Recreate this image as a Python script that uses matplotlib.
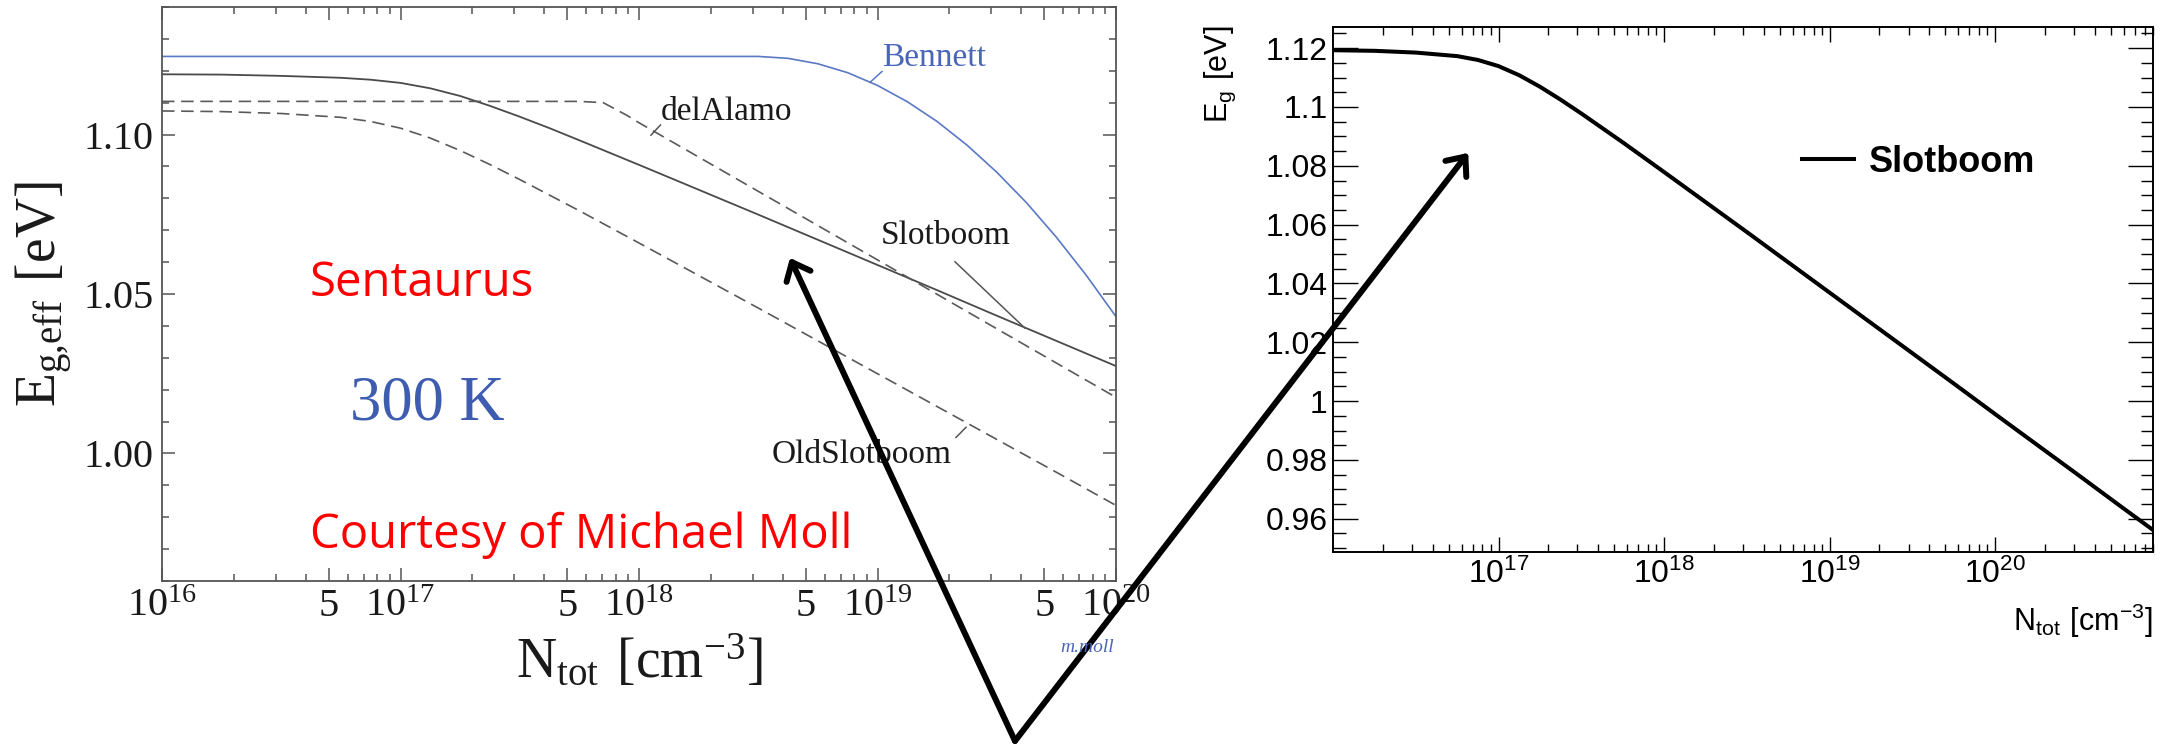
import numpy as np
import matplotlib
matplotlib.use("Agg")
import matplotlib.pyplot as plt
from matplotlib.ticker import FixedLocator, MultipleLocator, FuncFormatter

# ---- left panel: Sentaurus band gap narrowing models, 300 K ----
# x values are log10(N_tot / cm^-3), y values E_g,eff in eV
slot_exp = [16, 16.25, 16.5, 16.75, 16.875, 17, 17.125, 17.25, 17.375, 17.5, 17.625,
            17.75, 18, 18.25, 18.5, 18.75, 19, 19.25, 19.5, 19.75, 20]
slot_eg = [1.1189, 1.1188, 1.1184, 1.1178, 1.1172, 1.1162, 1.1145, 1.1121, 1.1090, 1.1056, 1.1020,
           1.0982, 1.0905, 1.0827, 1.0749, 1.0670, 1.0591, 1.0512, 1.0432, 1.0353, 1.0274]

old_exp = slot_exp
old_eg = [1.1074, 1.1072, 1.1066, 1.1054, 1.1041, 1.1020, 1.0989, 1.0950, 1.0906, 1.0859, 1.0810,
          1.0761, 1.0660, 1.0558, 1.0456, 1.0353, 1.0250, 1.0147, 1.0044, 0.9941, 0.9837]

alamo_exp = [16, 17, 17.75, 17.85, 17.95, 18, 18.5, 19, 19.5, 20]
alamo_eg = [1.1104, 1.1104, 1.1104, 1.1100, 1.1060, 1.1037, 1.0822, 1.0607, 1.0391, 1.0176]

bennett_exp = [16, 18.5, 18.625, 18.75, 18.875, 19, 19.125, 19.25, 19.375, 19.5, 19.625,
               19.75, 19.875, 20]
bennett_eg = [1.1245, 1.1245, 1.1239, 1.1222, 1.1194, 1.1154, 1.1103, 1.1041, 1.0967, 1.0882, 1.0786,
              1.0678, 1.0559, 1.0429]

left_ticks = [1e16, 5e16, 1e17, 5e17, 1e18, 5e18, 1e19, 5e19, 1e20]
left_ticklabels = [r"$\mathregular{10^{16}}$", "5", r"$\mathregular{10^{17}}$", "5",
                   r"$\mathregular{10^{18}}$", "5", r"$\mathregular{10^{19}}$", "5",
                   r"$\mathregular{10^{20}}$"]

# ---- right panel: Slotboom curve ----
root_exp = [16, 16.25, 16.5, 16.75, 16.875, 17, 17.125, 17.25, 17.375, 17.5, 17.625, 17.75,
            18, 18.25, 18.5, 18.75, 19, 19.25, 19.5, 19.75, 20, 20.25, 20.5, 20.75, 20.954]
root_eg = [1.1193, 1.1191, 1.1185, 1.1173, 1.1160, 1.1139, 1.1108, 1.1069, 1.1025, 1.0978, 1.0929, 1.0880,
           1.0779, 1.0677, 1.0575, 1.0472, 1.0369, 1.0266, 1.0163, 1.0060, 0.9956, 0.9853, 0.9750, 0.9646, 0.9562]

right_ticks = [1e17, 1e18, 1e19, 1e20]
right_ticklabels = [r"$\mathregular{10^{17}}$", r"$\mathregular{10^{18}}$",
                    r"$\mathregular{10^{19}}$", r"$\mathregular{10^{20}}$"]

SERIF = "Liberation Serif"
SANS = "Liberation Sans"
BLUE = "#4a66b8"
GREY = "#555555"

W, H = 2165, 744
fig = plt.figure(figsize=(W / 100, H / 100), dpi=100)
fig.patch.set_facecolor("white")

def box(x0, y0, x1, y1):
    # pixel box (top-left origin) -> figure fraction rect
    return [x0 / W, 1 - y1 / H, (x1 - x0) / W, (y1 - y0) / H]

# ================= left =================
ax1 = fig.add_axes(box(162, 7, 1116, 581))
ax1.set_xscale("log")
ax1.plot(10 ** np.array(bennett_exp), bennett_eg, color="#5a78c4", lw=1.2)
ax1.plot(10 ** np.array(slot_exp), slot_eg, color="#4a4a4a", lw=1.3)
ax1.plot(10 ** np.array(alamo_exp), alamo_eg, color="#5a5a5a", lw=1.2, dashes=(7.5, 4))
ax1.plot(10 ** np.array(old_exp), old_eg, color="#5a5a5a", lw=1.2, dashes=(7.5, 4))
ax1.set_xlim(1e16, 1e20)
ax1.set_ylim(0.96, 1.14)

ax1.set_xticks(left_ticks, left_ticklabels, fontfamily=SERIF, fontsize=29)
minor = [m * 10.0 ** d for d in range(16, 20) for m in (2, 3, 4, 6, 7, 8, 9)]
ax1.xaxis.set_minor_locator(FixedLocator(minor))
ax1.xaxis.set_minor_formatter(FuncFormatter(lambda v, p: ""))
ax1.set_yticks([1.00, 1.05, 1.10], ["1.00", "1.05", "1.10"], fontfamily=SERIF, fontsize=29)
ax1.yaxis.set_minor_locator(MultipleLocator(0.01))
ax1.tick_params(which="both", direction="in", top=True, right=True, color=GREY,
                width=1.1, labelcolor="#1a1a1a")
ax1.tick_params(which="major", length=9.5)
ax1.tick_params(which="minor", length=5)
ax1.tick_params(axis="x", pad=5)
ax1.tick_params(axis="y", pad=6)
for s in ax1.spines.values():
    s.set_color(GREY)
    s.set_linewidth(1.3)

# curve names with short leader strokes
lab = dict(fontfamily=SERIF, fontsize=24, ha="center", va="center")
ax1.text(10 ** 19.237, 1.1242, "Bennett", color=BLUE, **lab)
ax1.text(10 ** 18.365, 1.1072, "delAlamo", color="#1a1a1a", **lab)
ax1.text(10 ** 19.285, 1.0682, "Slotboom", color="#1a1a1a", **lab)
ax1.text(10 ** 18.933, 0.9997, "OldSlotboom", color="#1a1a1a", **lab)
ax1.plot([10 ** 19.019, 10 ** 18.969], [1.1198, 1.1164], color="#5a78c4", lw=1.1)
ax1.plot([10 ** 18.09, 10 ** 18.05], [1.1030, 1.0998], color=GREY, lw=1.1)
ax1.plot([10 ** 19.325, 10 ** 19.618], [1.0601, 1.0393], color=GREY, lw=1.1)
ax1.plot([10 ** 19.371, 10 ** 19.329], [1.0082, 1.0050], color=GREY, lw=1.1)

ax1.text(10 ** 16.62, 1.0494, "Sentaurus", color="red", fontfamily="Open Sans",
         fontsize=34, ha="left", va="baseline")
ax1.text(10 ** 16.62, 0.9704, "Courtesy of Michael Moll", color="red",
         fontfamily="Open Sans", fontsize=34, ha="left", va="baseline")
ax1.text(10 ** 16.788, 1.0107, "300 K", color="#3f5db0", fontfamily=SERIF,
         fontsize=45, ha="left", va="baseline")

fig.text(44 / W, 1 - 294 / H, r"$\mathregular{E_{g{,}eff}\ [eV]}$", rotation=90,
         fontfamily=SERIF, fontsize=40, ha="center", va="center", color="#1a1a1a")
fig.text(639 / W, 1 - 662 / H, r"$\mathregular{N_{tot}\ [cm^{-3}]}$",
         fontfamily=SERIF, fontsize=40, ha="center", va="center", color="#1a1a1a")
fig.text(1087 / W, 1 - 648 / H, "m.moll", fontfamily=SERIF, style="italic",
         fontsize=14, color=BLUE, ha="center", va="center")

# ================= right =================
ax2 = fig.add_axes(box(1333, 26.7, 2153, 551.7))
ax2.set_xscale("log")
ax2.plot(10 ** np.array(root_exp), root_eg, color="black", lw=2.9, label="Slotboom")
ax2.set_xlim(1e16, 9e20)
ax2.set_ylim(0.9488, 1.1273)

ax2.set_xticks(right_ticks, right_ticklabels, fontfamily=SANS, fontsize=23)
minor2 = [m * 10.0 ** d for d in range(16, 21) for m in range(2, 10) if m * 10.0 ** d <= 9e20]
ax2.xaxis.set_minor_locator(FixedLocator(minor2))
ax2.xaxis.set_minor_formatter(FuncFormatter(lambda v, p: ""))
yt = [0.96, 0.98, 1.00, 1.02, 1.04, 1.06, 1.08, 1.10, 1.12]
ax2.set_yticks(yt, ["%g" % v for v in yt], fontfamily=SANS, fontsize=23)
ax2.yaxis.set_minor_locator(MultipleLocator(0.005))
ax2.tick_params(which="both", direction="in", top=True, right=True, color="black",
                width=1.0, labelcolor="black")
ax2.tick_params(axis="y", which="major", length=18, pad=4)
ax2.tick_params(axis="y", which="minor", length=9)
ax2.tick_params(axis="x", which="major", length=11, pad=5)
ax2.tick_params(axis="x", which="minor", length=5.5)
for s in ax2.spines.values():
    s.set_linewidth(1.4)

ax2.legend(loc="center left", bbox_to_anchor=(0.572, 0.742), frameon=False,
           borderpad=0, borderaxespad=0, handlelength=1.45, handletextpad=0.4,
           prop=dict(family=SANS, weight="bold", size=26))

fig.text(1220 / W, 1 - 26 / H, r"$\mathregular{E_g\ [eV]}$", rotation=90,
         fontfamily=SANS, fontsize=22, ha="center", va="top")
fig.text(2153 / W, 1 - 621 / H, r"$\mathregular{N_{tot}\ [cm^{-3}]}$",
         fontfamily=SANS, fontsize=22, ha="right", va="center")

# ================= pointer arrows =================
arrow = dict(arrowstyle="->,head_length=0.45,head_width=0.38", color="black",
             lw=4.3, mutation_scale=25, shrinkA=0, shrinkB=0)
base = (1015 / W, 3 / H)
ax1.annotate("", xy=(10 ** 18.633, 1.0613), xytext=base, textcoords="figure fraction",
             arrowprops=arrow, annotation_clip=False)
ax2.annotate("", xy=(10 ** 16.817, 1.0844), xytext=base, textcoords="figure fraction",
             arrowprops=arrow, annotation_clip=False)

fig.savefig("out.png", dpi=100, facecolor="white")
